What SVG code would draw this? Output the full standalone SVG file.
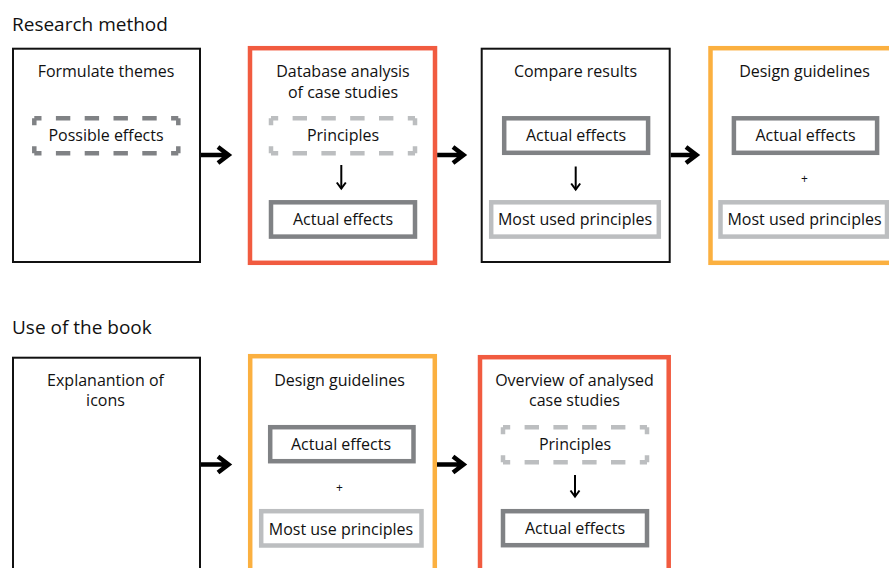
<svg xmlns="http://www.w3.org/2000/svg" width="889" height="568" viewBox="0 0 889 568">
<style>
text{font-family:"Open Sans","Noto Sans","Liberation Sans",sans-serif;fill:#111}
.t{font-size:16px;text-anchor:middle}
.h{font-size:19px}
.p{font-size:12px;text-anchor:middle}
.blk{fill:#fff;stroke:#111;stroke-width:2}
.red{fill:#fff;stroke:#F15B40;stroke-width:4.5}
.org{fill:#fff;stroke:#FBB040;stroke-width:4.5}
.dg{fill:#fff;stroke:#808285;stroke-width:4.5}
.lg{fill:#fff;stroke:#BCBEC0;stroke-width:4.5}
.dh{fill:none;stroke-width:4.5;stroke-dasharray:14.4 14.4;stroke-dashoffset:7.2}
.dv{fill:none;stroke-width:4.5;stroke-dasharray:7 21}
.cd{stroke:#808285}
.cl{stroke:#BCBEC0}
.arr{fill:none;stroke:#000;stroke-width:4.5;stroke-linejoin:miter;stroke-miterlimit:10}
.darr{fill:none;stroke:#000;stroke-width:2}
</style>
<defs>
<marker id="dh" markerWidth="12" markerHeight="12" refX="9" refY="6" orient="auto" markerUnits="userSpaceOnUse" viewBox="0 0 12 12">
<path d="M3,1.5 L9,6 L3,10.5" fill="none" stroke="#000" stroke-width="2"/>
</marker>
</defs>

<text class="h" x="12" y="31">Research method</text>
<text class="h" x="12" y="334">Use of the book</text>

<g id="formulate-themes">
<rect class="blk" x="13" y="48.7" width="187" height="213.3"/>
<text class="t" x="106" y="76.5">Formulate themes</text>
<g id="possible-effects">
<rect x="34.3" y="118.3" width="144" height="35" fill="#fff"/>
<path class="dh cd" d="M34.3,118.3 h144 M34.3,153.3 h144"/>
<path class="dv cd" d="M34.3,118.3 v35 M178.3,118.3 v35"/>
<text class="t" x="106" y="140.5">Possible effects</text>
</g>
</g>

<g id="database-analysis">
<rect class="red" x="250" y="48.2" width="185" height="214.6"/>
<text class="t" x="343" y="76.5">Database analysis</text>
<text class="t" x="343" y="98">of case studies</text>
<g id="principles-1">
<rect x="271" y="118.3" width="144" height="35" fill="#fff"/>
<path class="dh cl" d="M271,118.3 h144 M271,153.3 h144"/>
<path class="dv cl" d="M271,118.3 v35 M415,118.3 v35"/>
<text class="t" x="343" y="140.5">Principles</text>
</g>
<g id="actual-effects-1">
<rect class="dg" x="271" y="202.3" width="144" height="34.3"/>
<text class="t" x="343" y="225">Actual effects</text>
</g>
</g>

<g id="compare-results">
<rect class="blk" x="481.7" y="48.7" width="188" height="213.3"/>
<text class="t" x="575.5" y="76.5">Compare results</text>
<g id="actual-effects-2">
<rect class="dg" x="504.2" y="118.3" width="143.9" height="34.5"/>
<text class="t" x="576" y="140.5">Actual effects</text>
</g>
<g id="most-used-principles-1">
<rect class="lg" x="491.2" y="202.3" width="167.6" height="34.3"/>
<text class="t" x="575" y="225">Most used principles</text>
</g>
</g>

<g id="design-guidelines-1">
<rect class="org" x="710.5" y="48.2" width="190" height="214.6"/>
<text class="t" x="804.5" y="76.5">Design guidelines</text>
<g id="actual-effects-3">
<rect class="dg" x="733.9" y="118.3" width="143.2" height="34.5"/>
<text class="t" x="805.5" y="140.5">Actual effects</text>
</g>
<text class="p" x="804.5" y="183">+</text>
<g id="most-used-principles-2">
<rect class="lg" x="720.5" y="202.3" width="166.5" height="34.3"/>
<text class="t" x="804.5" y="225">Most used principles</text>
</g>
</g>

<g id="explanation-of-icons">
<rect class="blk" x="13" y="357.7" width="187" height="240"/>
<text class="t" x="105.5" y="385.5">Explanantion of</text>
<text class="t" x="105.5" y="406">icons</text>
</g>

<g id="design-guidelines-2">
<rect class="org" x="250.2" y="356.2" width="184.6" height="240"/>
<text class="t" x="339.5" y="385.5">Design guidelines</text>
<g id="actual-effects-4">
<rect class="dg" x="270.2" y="427.2" width="143.3" height="34"/>
<text class="t" x="341" y="449.5">Actual effects</text>
</g>
<text class="p" x="339.5" y="492">+</text>
<g id="most-use-principles">
<rect class="lg" x="261.2" y="511.2" width="160.3" height="34.3"/>
<text class="t" x="341" y="534.5">Most use principles</text>
</g>
</g>

<g id="overview-case-studies">
<rect class="red" x="480" y="357.2" width="188.7" height="240"/>
<text class="t" x="574.5" y="386">Overview of analysed</text>
<text class="t" x="574.5" y="406">case studies</text>
<g id="principles-2">
<rect x="503" y="427.3" width="144" height="35" fill="#fff"/>
<path class="dh cl" d="M503,427.3 h144 M503,462.3 h144"/>
<path class="dv cl" d="M503,427.3 v35 M647,427.3 v35"/>
<text class="t" x="575" y="450">Principles</text>
</g>
<g id="actual-effects-5">
<rect class="dg" x="503" y="511.2" width="144" height="34"/>
<text class="t" x="575" y="534">Actual effects</text>
</g>
</g>

<g id="connectors">
<path class="arr" d="M201,155 H226 M218,147 L228.5,155 L218,163"/>
<path class="arr" d="M437.2,155 H461 M453,147 L463.5,155 L453,163"/>
<path class="arr" d="M670.7,155 H694 M686,147 L696.5,155 L686,163"/>
<path class="arr" d="M201,464.5 H226 M218,456.5 L228.5,464.5 L218,472.5"/>
<path class="arr" d="M437,464.5 H461 M453,456.5 L463.5,464.5 L453,472.5"/>
<line class="darr" x1="341.3" y1="165" x2="341.3" y2="188.5" marker-end="url(#dh)"/>
<line class="darr" x1="575.7" y1="166.5" x2="575.7" y2="189.5" marker-end="url(#dh)"/>
<line class="darr" x1="575" y1="475" x2="575" y2="496.5" marker-end="url(#dh)"/>
</g>
</svg>
